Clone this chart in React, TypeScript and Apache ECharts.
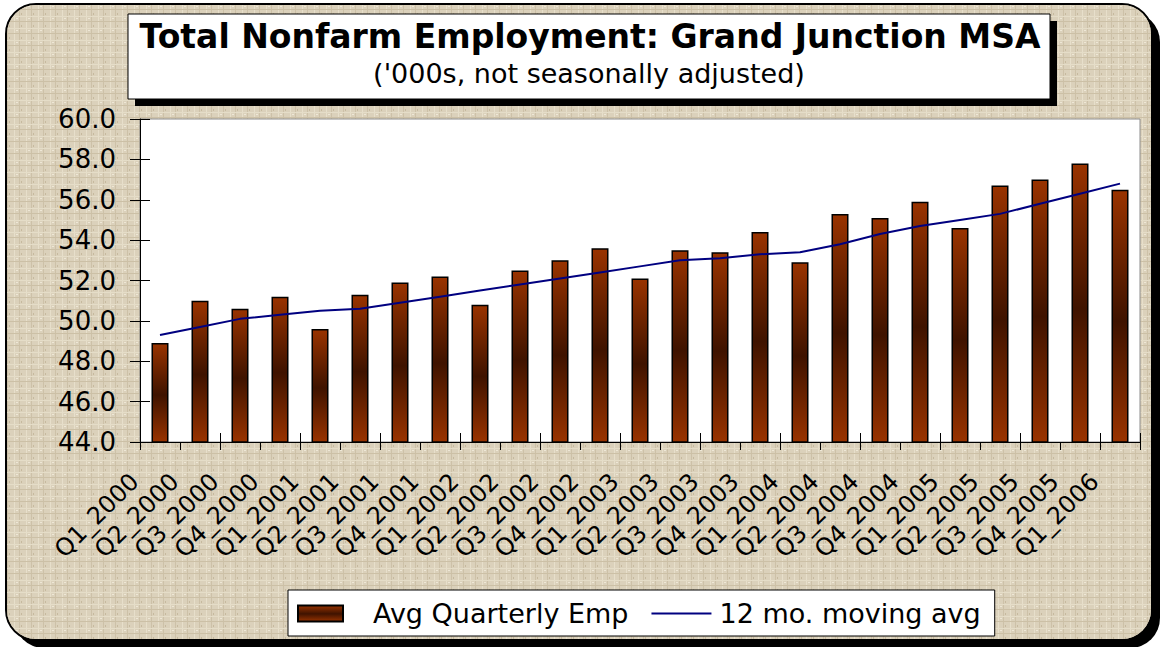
import React, { useEffect, useRef } from "react";
import * as echarts from "echarts";

const categories = [
  "Q1_2000", "Q2_2000", "Q3_2000", "Q4_2000",
  "Q1_2001", "Q2_2001", "Q3_2001", "Q4_2001",
  "Q1_2002", "Q2_2002", "Q3_2002", "Q4_2002",
  "Q1_2003", "Q2_2003", "Q3_2003", "Q4_2003",
  "Q1_2004", "Q2_2004", "Q3_2004", "Q4_2004",
  "Q1_2005", "Q2_2005", "Q3_2005", "Q4_2005",
  "Q1_2006",
];

const avgQuarterlyEmp = [
  48.9, 51.0, 50.6, 51.2,
  49.6, 51.3, 51.9, 52.2,
  50.8, 52.5, 53.0, 53.6,
  52.1, 53.5, 53.4, 54.4,
  52.9, 55.3, 55.1, 55.9,
  54.6, 56.7, 57.0, 57.8,
  56.5,
];

const movingAvg = [
  49.3, 49.7, 50.1, 50.3,
  50.5, 50.6, 50.9, 51.2,
  51.5, 51.8, 52.1, 52.4,
  52.7, 53.0, 53.1, 53.3,
  53.4, 53.8, 54.3, 54.7,
  55.0, 55.3, 55.8, 56.3,
  56.8,
];

const seriesNames = ["Avg Quarterly Emp", "12 mo. moving avg"];
const titleText = "Total Nonfarm Employment: Grand Junction MSA";
const subtitleText = "('000s, not seasonally adjusted)";

const FONT = "DejaVu Sans";

// small woven tile for the parchment-like background
const tileSvg =
  '<svg xmlns="http://www.w3.org/2000/svg" width="12" height="12">' +
  '<rect width="12" height="12" fill="#dbd1bb"/>' +
  '<rect x="2" y="0" width="1" height="12" fill="#e7dfcb"/>' +
  '<rect x="7" y="0" width="1" height="12" fill="#cdc1a8"/>' +
  '<rect x="0" y="4" width="12" height="1" fill="#e5ddc8"/>' +
  '<rect x="0" y="9" width="12" height="1" fill="#ccc0a6"/>' +
  '<rect x="4" y="6" width="2" height="1" fill="#eee7d6"/>' +
  '<rect x="9" y="1" width="1" height="2" fill="#c6b99e"/>' +
  "</svg>";
const tileUrl = "data:image/svg+xml;charset=utf-8," + encodeURIComponent(tileSvg);

export default function App() {
  const ref = useRef<HTMLDivElement>(null);

  useEffect(() => {
    if (!ref.current) return;
    const chart = echarts.init(ref.current, undefined, { renderer: "svg" });

    const barGradient = new echarts.graphic.LinearGradient(0, 0, 0, 1, [
      { offset: 0, color: "#993300" },
      { offset: 0.52, color: "#3f1300" },
      { offset: 1, color: "#993300" },
    ]);

    const option = {
      animation: false,
      textStyle: { fontFamily: FONT },
      grid: {
        left: 140,
        top: 119,
        width: 1000,
        height: 323,
        show: true,
        backgroundColor: "#ffffff",
        borderColor: "#8c8c8c",
        borderWidth: 1,
      },
      legend: {
        left: 288,
        top: 590,
        orient: "horizontal",
        backgroundColor: "#ffffff",
        borderColor: "#000000",
        borderWidth: 1,
        borderRadius: 0,
        padding: [10, 14, 9, 9],
        itemWidth: 60,
        itemHeight: 16,
        itemGap: 23,
        data: [
          { name: seriesNames[0], icon: "path://M0,0 L45,0 L45,16 L0,16 Z M60,0 L60,0" },
          { name: seriesNames[1], icon: "path://M0,0 L0,0 M0,7 L60,7 L60,9 L0,9 Z M60,16 L60,16" },
        ],
        formatter: (name: string) =>
          name === seriesNames[0] ? `{a|${name}}` : `{b|${name}}`,
        textStyle: {
          fontFamily: FONT,
          fontSize: 27,
          color: "#000",
          rich: {
            a: { fontFamily: FONT, fontSize: 27, color: "#000", padding: [0, 0, 0, 10] },
            b: { fontFamily: FONT, fontSize: 27, color: "#000", padding: [0, 0, 0, 3] },
          },
        },
      },
      xAxis: [
        {
          type: "category",
          data: categories,
          position: "bottom",
          boundaryGap: true,
          axisLine: { show: true, lineStyle: { color: "#000", width: 1 } },
          axisTick: { show: true, length: 8, lineStyle: { color: "#000", width: 1 } },
          axisLabel: {
            interval: 0,
            rotate: 45,
            margin: 10,
            padding: [0, 36, 0, 0],
            fontFamily: FONT,
            fontSize: 24,
            color: "#000",
          },
          splitLine: { show: false },
        },
        {
          type: "category",
          data: categories,
          position: "bottom",
          boundaryGap: true,
          axisLine: { show: false },
          axisTick: { show: true, inside: true, length: 9, lineStyle: { color: "#000", width: 1 } },
          axisLabel: { show: false },
          splitLine: { show: false },
        },
      ],
      yAxis: [
        {
          type: "value",
          min: 44,
          max: 60,
          interval: 2,
          position: "left",
          axisLine: { show: true, lineStyle: { color: "#000", width: 1 } },
          axisTick: { show: true, length: 10, lineStyle: { color: "#000", width: 1 } },
          axisLabel: {
            formatter: (v: number) => v.toFixed(1),
            fontFamily: FONT,
            fontSize: 26,
            color: "#000",
            margin: 24,
          },
          splitLine: { show: false },
        },
        {
          type: "value",
          min: 44,
          max: 60,
          interval: 2,
          position: "left",
          axisLine: { show: false },
          axisTick: { show: true, inside: true, length: 10, lineStyle: { color: "#000", width: 1 } },
          axisLabel: { show: false },
          splitLine: { show: false },
        },
      ],
      series: [
        {
          name: seriesNames[0],
          type: "bar",
          xAxisIndex: 0,
          yAxisIndex: 0,
          data: avgQuarterlyEmp,
          barWidth: 17,
          itemStyle: {
            color: barGradient,
            borderColor: "#000",
            borderWidth: 1.5,
          },
          z: 2,
        },
        {
          name: seriesNames[1],
          type: "line",
          xAxisIndex: 0,
          yAxisIndex: 0,
          data: movingAvg,
          symbol: "none",
          showSymbol: false,
          lineStyle: { color: "#000080", width: 2 },
          itemStyle: { color: "#000080" },
          z: 3,
        },
      ],
      graphic: [
        {
          type: "rect",
          z: -100,
          shape: { x: 14, y: 12, width: 1146, height: 636, r: 30 },
          style: { fill: "#000" },
          silent: true,
        },
        {
          type: "rect",
          z: -99,
          shape: { x: 6, y: 4, width: 1146, height: 636, r: 30 },
          style: { fill: "#dbd1bb", stroke: "#000", lineWidth: 2 },
          silent: true,
        },
        {
          type: "rect",
          z: -98,
          shape: { x: 7, y: 5, width: 1144, height: 634, r: 29 },
          style: {
            fill: { image: tileUrl, repeat: "repeat", imageWidth: 12, imageHeight: 12 } as any,
          },
          silent: true,
        },
        {
          type: "rect",
          z: 50,
          shape: { x: 135, y: 21, width: 922, height: 85 },
          style: { fill: "#000" },
          silent: true,
        },
        {
          type: "rect",
          z: 51,
          shape: { x: 128, y: 14, width: 922, height: 85 },
          style: { fill: "#fff", stroke: "#000", lineWidth: 1 },
          silent: true,
        },
        {
          type: "text",
          z: 52,
          x: 590,
          y: 36,
          style: {
            text: titleText,
            fill: "#000",
            font: `bold 33px "${FONT}"`,
            textAlign: "center",
            textVerticalAlign: "middle",
          },
          silent: true,
        },
        {
          type: "text",
          z: 52,
          x: 589,
          y: 73,
          style: {
            text: subtitleText,
            fill: "#000",
            font: `27px "${FONT}"`,
            textAlign: "center",
            textVerticalAlign: "middle",
          },
          silent: true,
        },
      ],
    };

    chart.setOption(option as any);
    return () => {
      chart.dispose();
    };
  }, []);

  return (
    <div
      ref={ref}
      style={{ position: "fixed", left: 0, top: 0, width: 1161, height: 647, background: "#fff" }}
    />
  );
}
